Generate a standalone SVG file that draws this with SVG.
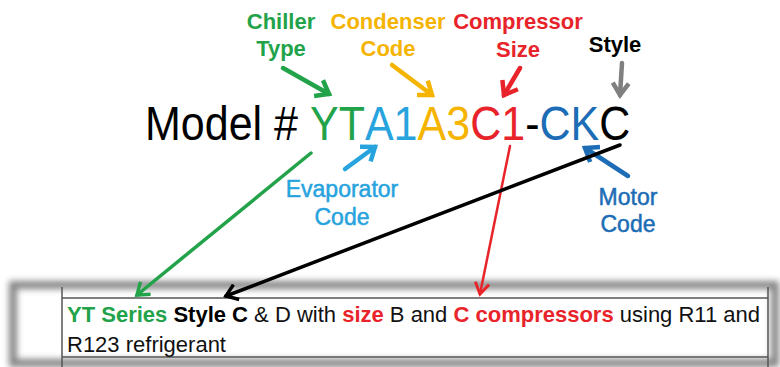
<svg xmlns="http://www.w3.org/2000/svg" width="780" height="367" viewBox="0 0 780 367">
<style>
.lbl{font-family:"Liberation Sans",Arial,sans-serif;font-size:22px;font-weight:bold;text-anchor:middle}
.lbl2{font-family:"Liberation Sans",Arial,sans-serif;font-size:23px;text-anchor:middle;stroke-width:0.5}
.model{font-family:"Liberation Sans",Arial,sans-serif;font-size:49px}
.tbl{font-family:"Liberation Sans",Arial,sans-serif;font-size:22px;fill:#111}
.b{font-weight:bold}
.g{fill:#22a34a}.o{fill:#f5b400}.r{fill:#e8232a}.lb{fill:#27a3dd}.db{fill:#1c6db5}.k{fill:#000}
.arr{fill:none;stroke-linecap:round;stroke-linejoin:miter}
.grid{stroke:#555;stroke-width:1.5;fill:none}
</style>
<defs>
<filter id="blur" x="-5%" y="-30%" width="110%" height="160%"><feGaussianBlur stdDeviation="3"/></filter>
<marker id="hg" markerUnits="userSpaceOnUse" orient="auto" overflow="visible" refX="0" refY="0"><path d="M-12,-9 L0,0 L-12,9" fill="none" stroke="#22a34a" stroke-width="4.5"/></marker>
<marker id="ho" markerUnits="userSpaceOnUse" orient="auto" overflow="visible" refX="0" refY="0"><path d="M-12,-9 L0,0 L-12,9" fill="none" stroke="#f5b400" stroke-width="4.5"/></marker>
<marker id="hr" markerUnits="userSpaceOnUse" orient="auto" overflow="visible" refX="0" refY="0"><path d="M-12,-9 L0,0 L-12,9" fill="none" stroke="#e8232a" stroke-width="4.5"/></marker>
<marker id="hgr" markerUnits="userSpaceOnUse" orient="auto" overflow="visible" refX="0" refY="0"><path d="M-12,-8 L0,0 L-12,8" fill="none" stroke="#808080" stroke-width="4.5"/></marker>
<marker id="hlb" markerUnits="userSpaceOnUse" orient="auto" overflow="visible" refX="0" refY="0"><path d="M-12,-9 L0,0 L-12,9" fill="none" stroke="#27a3dd" stroke-width="4.5"/></marker>
<marker id="hdb" markerUnits="userSpaceOnUse" orient="auto" overflow="visible" refX="0" refY="0"><path d="M-12,-9 L0,0 L-12,9" fill="none" stroke="#1c6db5" stroke-width="4.5"/></marker>
<marker id="hg2" markerUnits="userSpaceOnUse" orient="auto" overflow="visible" refX="0" refY="0"><path d="M-11,-8 L0,0 L-11,8" fill="none" stroke="#22a34a" stroke-width="3.5"/></marker>
<marker id="hr2" markerUnits="userSpaceOnUse" orient="auto" overflow="visible" refX="0" refY="0"><path d="M-11,-7 L0,0 L-11,7" fill="none" stroke="#e8232a" stroke-width="3"/></marker>
<marker id="hk2" markerUnits="userSpaceOnUse" orient="auto" overflow="visible" refX="0" refY="0"><path d="M-11,-8 L0,0 L-11,8" fill="none" stroke="#000" stroke-width="3.5"/></marker>
</defs>
<rect width="780" height="367" fill="#fff"/>

<g id="table">
<rect x="13" y="285" width="762" height="78" fill="none" stroke="#858585" stroke-width="8" filter="url(#blur)"/>
<path class="grid" d="M62,287 V367 M768,287 V367 M62,298 H768 M62,357 H768"/>
<text class="tbl" x="67" y="322"><tspan class="g b">YT Series</tspan> <tspan class="b k">Style C</tspan> &amp; D with <tspan class="r b">size</tspan> B and <tspan class="r b">C compressors</tspan> using R11 and</text>
<text class="tbl" x="67" y="352">R123 refrigerant</text>
</g>

<g id="model">
<text class="model" transform="translate(145,140) scale(0.878,1)"><tspan class="k">Model # </tspan><tspan class="g">YT</tspan><tspan class="lb">A1</tspan><tspan class="o">A3</tspan><tspan class="r">C1</tspan><tspan class="k">-</tspan><tspan class="db">CK</tspan><tspan class="k">C</tspan></text>
</g>

<g id="chiller-type"><text class="lbl g" x="281" y="28.5">Chiller</text><text class="lbl g" x="281" y="56">Type</text></g>
<g id="condenser-code"><text class="lbl o" x="388" y="28.5">Condenser</text><text class="lbl o" x="388" y="56">Code</text></g>
<g id="compressor-size"><text class="lbl r" x="518" y="28.5">Compressor</text><text class="lbl r" x="518" y="57">Size</text></g>
<g id="style"><text class="lbl k" x="615" y="52">Style</text></g>
<g id="evaporator-code"><text class="lbl2 lb" stroke="#27a3dd" x="342" y="197">Evaporator</text><text class="lbl2 lb" stroke="#27a3dd" x="342" y="225">Code</text></g>
<g id="motor-code"><text class="lbl2 db" stroke="#1c6db5" x="628" y="205">Motor</text><text class="lbl2 db" stroke="#1c6db5" x="628" y="232">Code</text></g>

<g id="connectors" class="arr">
<line x1="283" y1="68" x2="329" y2="94" stroke="#22a34a" stroke-width="4.5" marker-end="url(#hg)"/>
<line x1="392" y1="65" x2="432" y2="95" stroke="#f5b400" stroke-width="4.5" marker-end="url(#ho)"/>
<line x1="520" y1="68" x2="504" y2="95" stroke="#e8232a" stroke-width="4.5" marker-end="url(#hr)"/>
<line x1="622" y1="63" x2="620" y2="95" stroke="#808080" stroke-width="4.5" marker-end="url(#hgr)"/>
<line x1="345" y1="169" x2="375" y2="147" stroke="#27a3dd" stroke-width="4.5" marker-end="url(#hlb)"/>
<line x1="628" y1="176" x2="585" y2="148" stroke="#1c6db5" stroke-width="4.5" marker-end="url(#hdb)"/>
<line x1="311" y1="153" x2="137" y2="295" stroke="#22a34a" stroke-width="3.5" marker-end="url(#hg2)"/>
<line x1="510" y1="146" x2="480" y2="294" stroke="#e8232a" stroke-width="2.5" marker-end="url(#hr2)"/>
<line x1="620" y1="145" x2="226" y2="296" stroke="#000" stroke-width="3.5" marker-end="url(#hk2)"/>
</g>
</svg>
